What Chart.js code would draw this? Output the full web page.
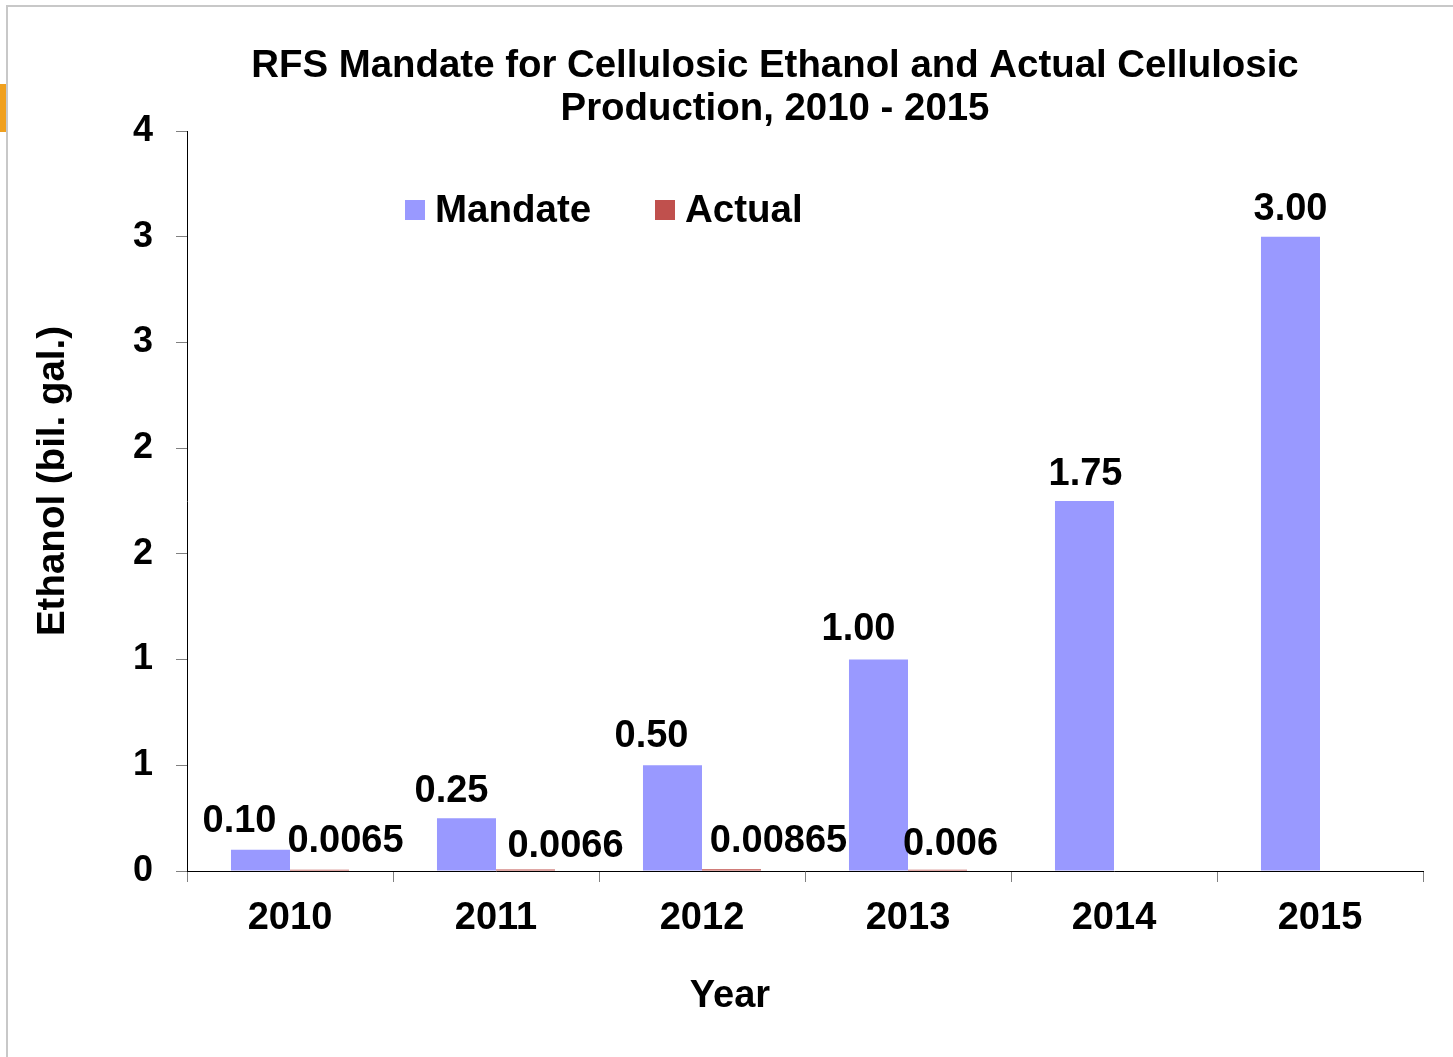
<!DOCTYPE html>
<html>
<head>
<meta charset="utf-8">
<title>RFS Mandate for Cellulosic Ethanol</title>
<script src="https://cdn.jsdelivr.net/npm/chart.js@4.4.1/dist/chart.umd.min.js"></script>
<style>
  html, body { margin: 0; padding: 0; background: #fff; overflow: hidden; }
  body { width: 1453px; height: 1057px; position: relative; }
  .frame { position: absolute; left: 6px; top: 5px; width: 1600px; height: 1200px;
           border-top: 2px solid #c8c8c8; border-left: 2px solid #c8c8c8; }
  .tab { position: absolute; left: 0; top: 84px; width: 6px; height: 48px; background: #f0a01e; }
  .chart-box { position: absolute; left: 0; top: 0; width: 1550px; height: 1057px; }
</style>
</head>
<body>
<div class="frame"></div>
<div class="tab"></div>
<div class="chart-box"><canvas id="rfsChart"></canvas></div>
<script>
const years = ['2010', '2011', '2012', '2013', '2014', '2015'];
const mandate = [0.10, 0.25, 0.50, 1.00, 1.75, 3.00];
const actual = [0.0065, 0.0066, 0.00865, 0.006, null, null];
const yTicks = [0, 0.5, 1, 1.5, 2, 2.5, 3, 3.5];

// nudges for the value labels [dx, dy] so neighbours don't collide
const mandateShift = [[-21, -18], [-15, -16], [-21, -18], [-20, -20], [1, -16], [0, -17]];
const actualShift = [[26, -18], [40, -13], [47, -17], [13, -15]];
const legendX = [405, 655];

const FONT = "'Liberation Sans', Arial, sans-serif";
Chart.defaults.font.family = FONT;
Chart.defaults.font.weight = 'bold';
Chart.defaults.color = '#000';

// value labels, legend and axis titles drawn straight onto the canvas
const extras = {
  id: 'extras',
  afterDatasetsDraw(chart) {
    const ctx = chart.ctx;
    ctx.save();
    ctx.fillStyle = '#000';
    ctx.font = 'bold 38px ' + FONT;
    ctx.textAlign = 'center';
    ctx.textBaseline = 'alphabetic';
    [mandateShift, actualShift].forEach((shift, i) => {
      const ds = chart.data.datasets[i];
      chart.getDatasetMeta(i).data.forEach((bar, j) => {
        const v = ds.data[j];
        if (v == null) return;
        const text = i === 0 ? v.toFixed(2) : String(v);
        ctx.fillText(text, bar.x + shift[j][0], bar.y + shift[j][1]);
      });
    });

    // legend
    ctx.font = 'bold 38.5px ' + FONT;
    ctx.textAlign = 'left';
    chart.data.datasets.forEach((ds, i) => {
      ctx.fillStyle = ds.backgroundColor;
      ctx.fillRect(legendX[i], 200, 20, 20);
      ctx.fillStyle = '#000';
      ctx.fillText(ds.label, legendX[i] + 30, 222);
    });

    // axis titles
    ctx.textAlign = 'center';
    ctx.font = 'bold 38px ' + FONT;
    ctx.fillText('Year', 730, 1007);
    ctx.font = 'bold 38.5px ' + FONT;
    ctx.translate(64, 481);
    ctx.rotate(-Math.PI / 2);
    ctx.fillText('Ethanol (bil. gal.)', 0, 0);
    ctx.restore();
  }
};

new Chart(document.getElementById('rfsChart'), {
  type: 'bar',
  data: {
    labels: years,
    datasets: [
      { label: 'Mandate', data: mandate, backgroundColor: '#9999FF', borderWidth: 0 },
      { label: 'Actual', data: actual, backgroundColor: '#C0504D', borderWidth: 0 }
    ]
  },
  options: {
    responsive: true,
    maintainAspectRatio: false,
    animation: false,
    events: [],
    categoryPercentage: 0.573,
    barPercentage: 1.0,
    layout: { padding: { left: 127, right: 127, top: 0, bottom: 106 } },
    plugins: {
      legend: { display: false },
      tooltip: { enabled: false },
      title: {
        display: true,
        text: ['RFS Mandate for Cellulosic Ethanol and Actual Cellulosic', 'Production, 2010 - 2015'],
        color: '#000',
        font: { size: 38.4, weight: 'bold', lineHeight: 1.12 },
        padding: { top: 45, bottom: 0 }
      }
    },
    scales: {
      x: {
        grid: { offset: true, drawOnChartArea: false, tickLength: 11, color: '#808080' },
        border: { color: '#000', width: 1 },
        ticks: { font: { size: 38, weight: 'bold' }, padding: 14, maxRotation: 0 },
        afterFit: scale => { scale.height = 80; }
      },
      y: {
        min: 0,
        max: 3.5,
        grid: { drawOnChartArea: false, tickLength: 11, color: '#808080' },
        border: { color: '#000', width: 1 },
        afterBuildTicks: axis => { axis.ticks = yTicks.map(v => ({ value: v })); },
        ticks: {
          font: { size: 36, weight: 'bold' },
          padding: 23,
          callback: v => Math.round(v)
        },
        afterFit: scale => { scale.width = 60; }
      }
    }
  },
  plugins: [extras]
});
</script>
</body>
</html>
